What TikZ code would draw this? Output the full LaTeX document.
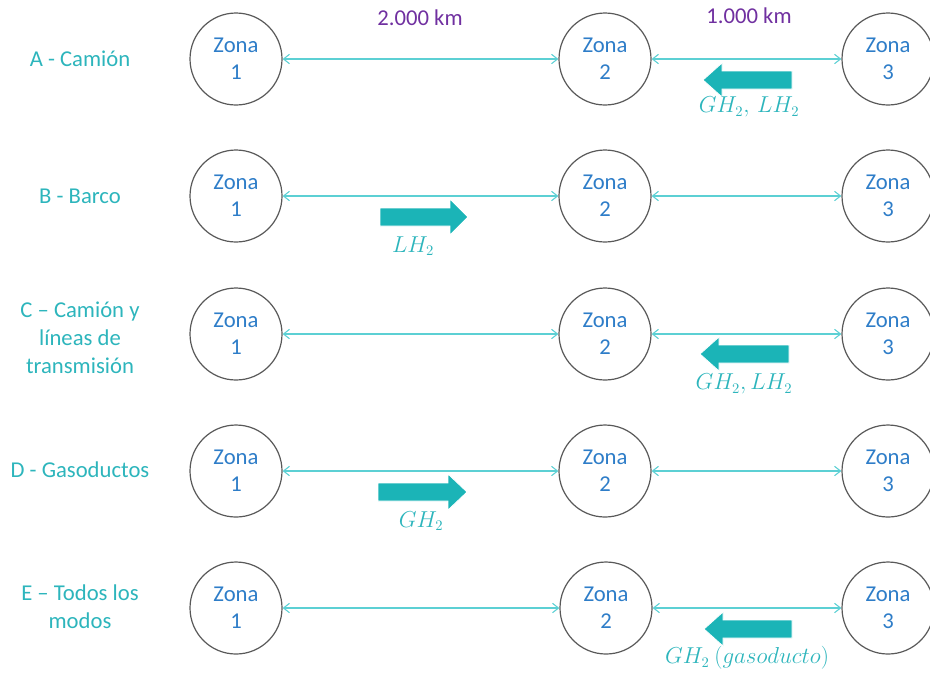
\documentclass[tikz,border=0pt]{standalone}
\usepackage{fontspec}
\setmainfont{Carlito}
\usepackage{xcolor}
\usetikzlibrary{arrows.meta}
\definecolor{HTeal}{HTML}{2DB5BC}
\definecolor{HArrow}{HTML}{1BB4B7}
\definecolor{HLine}{HTML}{5CD0D4}
\definecolor{HBlue}{HTML}{2E7DC8}
\definecolor{HGray}{HTML}{595959}
\definecolor{HPurple}{HTML}{7030A0}
\tikzset{
  zona/.style={circle,draw=HGray,line width=0.9pt,minimum size=69pt,inner sep=0pt,
    align=center,text=HBlue,font=\fontsize{17}{20}\selectfont},
  link/.style={HLine,line width=0.8pt,{Straight Barb[length=4.5pt,width=7pt]}-{Straight Barb[length=4.5pt,width=7pt]}},
  modo/.style={align=center,text=HTeal,font=\fontsize{17}{21}\selectfont},
  dist/.style={text=HPurple,font=\fontsize{17}{20}\selectfont},
  carga/.style={text=HTeal,font=\fontsize{16}{19}\selectfont},
  flujo/.style={fill=HArrow,draw=white,line width=0.6pt}
}
\begin{document}
\begin{tikzpicture}[x=0.75pt,y=-0.75pt]
\path[use as bounding box] (0,0) rectangle (930,676);
% distancias
\node[dist] (d12) at (420,18) {2.000 km};
\node[dist] (d23) at (749,16) {1.000 km};
% A - Camion
\node[modo] (mA) at (80,59) {A - Camión};
\node[zona] (z1A) at (236,59) {Zona\\1};
\node[zona] (z2A) at (605,59) {Zona\\2};
\node[zona] (z3A) at (888,59) {Zona\\3};
\draw[link] (z1A) -- (z2A);
\draw[link] (z2A) -- (z3A);
\filldraw[flujo] (792,71) -- (722,71) -- (722,63) -- (703,80) -- (722,97) -- (722,89) -- (792,89) -- cycle;
\node[carga] (cA) at (749,107) {$GH_2,\,LH_2$};
% B - Barco
\node[modo] (mB) at (80,196) {B - Barco};
\node[zona] (z1B) at (236,196) {Zona\\1};
\node[zona] (z2B) at (605,196) {Zona\\2};
\node[zona] (z3B) at (888,196) {Zona\\3};
\draw[link] (z1B) -- (z2B);
\draw[link] (z2B) -- (z3B);
\filldraw[flujo] (380,208) -- (450,208) -- (450,199) -- (468,217) -- (450,235) -- (450,226) -- (380,226) -- cycle;
\node[carga] (cB) at (413,246) {$LH_2$};
% C - Camion y lineas
\node[modo] (mC) at (80,338) {C – Camión y\\líneas de\\transmisión};
\node[zona] (z1C) at (236,334) {Zona\\1};
\node[zona] (z2C) at (605,334) {Zona\\2};
\node[zona] (z3C) at (888,334) {Zona\\3};
\draw[link] (z1C) -- (z2C);
\draw[link] (z2C) -- (z3C);
\filldraw[flujo] (789,345) -- (719,345) -- (719,337) -- (700,354) -- (719,371) -- (719,363) -- (789,363) -- cycle;
\node[carga] (cC) at (744,384) {$GH_2,LH_2$};
% D - Gasoductos
\node[modo] (mD) at (80,470) {D - Gasoductos};
\node[zona] (z1D) at (236,471) {Zona\\1};
\node[zona] (z2D) at (605,471) {Zona\\2};
\node[zona] (z3D) at (888,471) {Zona\\3};
\draw[link] (z1D) -- (z2D);
\draw[link] (z2D) -- (z3D);
\filldraw[flujo] (378,483) -- (448,483) -- (448,474) -- (467,492) -- (448,510) -- (448,501) -- (378,501) -- cycle;
\node[carga] (cD) at (421,521) {$GH_2$};
% E - Todos los modos
\node[modo] (mE) at (80,607) {E – Todos los\\modos};
\node[zona] (z1E) at (236,608) {Zona\\1};
\node[zona] (z2E) at (606,608) {Zona\\2};
\node[zona] (z3E) at (888,608) {Zona\\3};
\draw[link] (z1E) -- (z2E);
\draw[link] (z2E) -- (z3E);
\filldraw[flujo] (792,620) -- (723,620) -- (723,612) -- (704,629) -- (723,646) -- (723,638) -- (792,638) -- cycle;
\node[carga] (cE) at (747,658) {$GH_2\ (gasoducto)$};
\end{tikzpicture}
\end{document}
